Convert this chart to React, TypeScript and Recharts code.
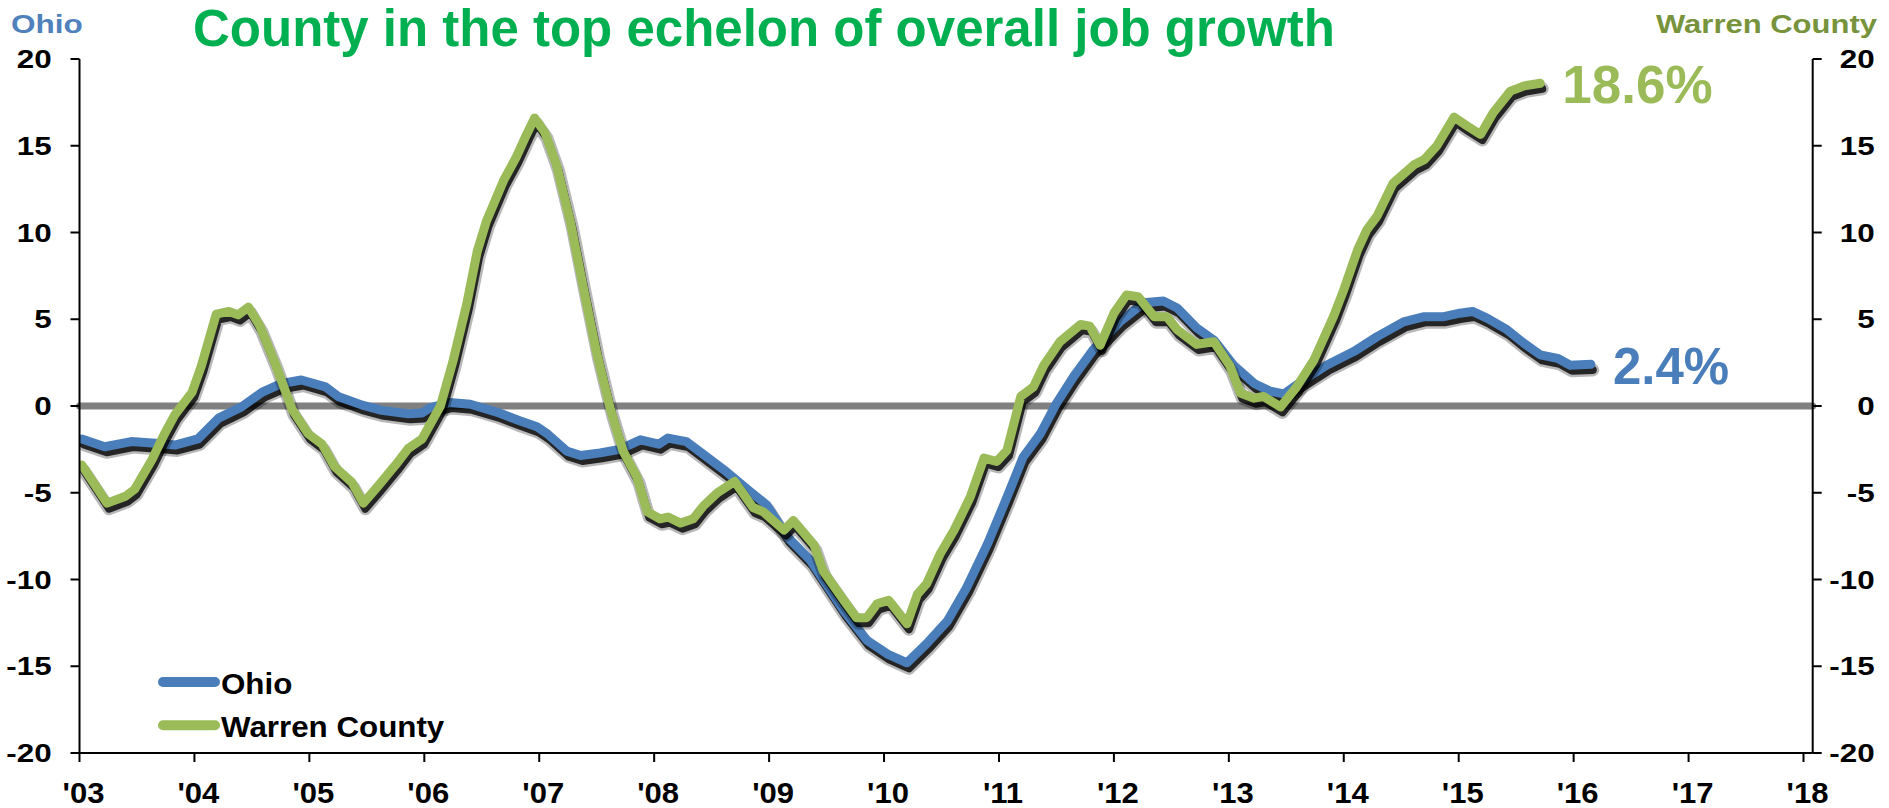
import { Line, LineChart, ReferenceLine, XAxis, YAxis } from 'recharts';

// year fractions (x) and % change values
const ohioDates = [
  2003.02, 2003.22, 2003.45, 2003.66, 2003.83, 2004.03, 2004.21, 2004.41, 2004.59, 2004.76,
  2004.93, 2005.14, 2005.25, 2005.46, 2005.63, 2005.86, 2005.98, 2006.05, 2006.22, 2006.4,
  2006.63, 2006.83, 2006.98, 2007.07, 2007.24, 2007.36, 2007.53, 2007.7, 2007.88, 2008.04,
  2008.12, 2008.28, 2008.46, 2008.63, 2008.81, 2008.98, 2009.16, 2009.36, 2009.65, 2009.85,
  2010.03, 2010.2, 2010.37, 2010.55, 2010.72, 2010.9, 2011.07, 2011.21, 2011.36, 2011.5,
  2011.65, 2011.82, 2012.06, 2012.26, 2012.43, 2012.55, 2012.72, 2012.87, 2013.04, 2013.22,
  2013.36, 2013.48, 2013.65, 2013.85, 2014.09, 2014.29, 2014.52, 2014.7, 2014.87, 2015.01,
  2015.12, 2015.25, 2015.42, 2015.57, 2015.71, 2015.86, 2015.97, 2016.15,
];
const ohioValues = [
  -1.9, -2.35, -2.05, -2.15, -2.25, -1.9, -0.7, -0.05, 0.8, 1.3,
  1.5, 1.1, 0.55, 0.05, -0.25, -0.45, -0.4, -0.1, 0.2, 0.1,
  -0.35, -0.85, -1.2, -1.6, -2.6, -2.85, -2.7, -2.5, -1.95, -2.2,
  -1.85, -2.05, -2.95, -3.8, -4.8, -5.7, -7.55, -8.9, -11.8, -13.5,
  -14.3, -14.8, -13.7, -12.4, -10.45, -7.95, -5.25, -2.95, -1.6, 0.15,
  1.7, 3.25, 4.9, 5.95, 6.05, 5.65, 4.5, 3.8, 2.35, 1.3,
  0.85, 0.7, 1.5, 2.35, 3.15, 4.0, 4.85, 5.15, 5.15, 5.35,
  5.45, 5.05, 4.4, 3.6, 2.95, 2.75, 2.35, 2.4,
];

const warrenDates = [
  2003.02, 2003.24, 2003.4, 2003.48, 2003.63, 2003.74, 2003.83, 2003.98, 2004.06, 2004.19,
  2004.3, 2004.38, 2004.47, 2004.57, 2004.7, 2004.85, 2004.99, 2005.11, 2005.22, 2005.37,
  2005.47, 2005.6, 2005.75, 2005.86, 2005.98, 2006.14, 2006.25, 2006.37, 2006.46, 2006.54,
  2006.69, 2006.8, 2006.89, 2006.96, 2007.05, 2007.15, 2007.27, 2007.38, 2007.5, 2007.62,
  2007.73, 2007.85, 2007.94, 2008.05, 2008.12, 2008.23, 2008.34, 2008.43, 2008.55, 2008.7,
  2008.86, 2008.95, 2009.13, 2009.21, 2009.39, 2009.47, 2009.65, 2009.76, 2009.85, 2009.94,
  2010.04, 2010.2, 2010.29, 2010.37, 2010.49, 2010.61, 2010.75, 2010.87, 2010.98, 2011.07,
  2011.19, 2011.3, 2011.39, 2011.53, 2011.71, 2011.79, 2011.88, 2012.0, 2012.11, 2012.21,
  2012.35, 2012.46, 2012.55, 2012.72, 2012.87, 2013.01, 2013.1, 2013.22, 2013.3, 2013.45,
  2013.59, 2013.74, 2013.91, 2014.0, 2014.12, 2014.2, 2014.29, 2014.43, 2014.61, 2014.7,
  2014.81, 2014.96, 2015.07, 2015.19, 2015.3, 2015.45, 2015.57, 2015.71,
];
const warrenValues = [
  -3.4, -5.6, -5.2, -4.8, -3.1, -1.6, -0.5, 0.8, 2.3, 5.3,
  5.45, 5.25, 5.7, 4.6, 2.5, -0.2, -1.6, -2.2, -3.5, -4.4,
  -5.6, -4.6, -3.4, -2.45, -1.9, 0.0, 2.6, 5.9, 8.9, 10.65,
  13.0, 14.35, 15.65, 16.6, 15.75, 13.9, 10.65, 6.95, 3.05, -0.2,
  -2.6, -4.1, -6.1, -6.5, -6.4, -6.75, -6.5, -5.75, -5.0, -4.35,
  -5.85, -6.1, -7.15, -6.6, -8.0, -9.5, -11.2, -12.2, -12.2, -11.4,
  -11.2, -12.55, -10.85, -10.25, -8.5, -7.15, -5.25, -3.0, -3.2, -2.55,
  0.55, 1.1, 2.35, 3.7, 4.7, 4.6, 3.5, 5.35, 6.4, 6.3,
  5.15, 5.15, 4.4, 3.55, 3.7, 2.3, 0.75, 0.45, 0.55, -0.05,
  1.1, 2.65, 5.15, 6.7, 9.0, 10.15, 10.95, 12.85, 13.9, 14.2,
  15.0, 16.65, 16.15, 15.65, 16.9, 18.15, 18.45, 18.6,
];

const yearTicks = [
  2003, 2004, 2005, 2006, 2007, 2008, 2009, 2010, 2011, 2012, 2013, 2014, 2015, 2016, 2017, 2018,
];
const yearLabels = [
  "'03", "'04", "'05", "'06", "'07", "'08", "'09", "'10", "'11", "'12", "'13", "'14", "'15", "'16", "'17", "'18",
];
const valueTicks = [-20, -15, -10, -5, 0, 5, 10, 15, 20];

const TITLE = 'County in the top echelon of overall job growth';
const OHIO_NAME = 'Ohio';
const WARREN_NAME = 'Warren County';
const OHIO_END = '2.4%';
const WARREN_END = '18.6%';

const OHIO_BLUE = '#4A7EBB';
const WARREN_GREEN = '#9BBB59';
const FONT = '"Liberation Sans", Arial, Helvetica, sans-serif';

const X_DOMAIN: [number, number] = [2003, 2018.08];
const Y_DOMAIN: [number, number] = [-20, 20];
// the drop shadow is a copy of each line on hidden axes nudged ~2px right, ~5.5px down
const SHADOW_DX = 0.017; // years
const SHADOW_DY = 0.32; // percentage points

const ohioRows = ohioDates.map((t, i) => ({ t, v: ohioValues[i] }));
const warrenRows = warrenDates.map((t, i) => ({ t, v: warrenValues[i] }));

const legendItems = [
  { name: OHIO_NAME, color: OHIO_BLUE },
  { name: WARREN_NAME, color: WARREN_GREEN },
];

function LeftTick(props: any) {
  const { x, y, payload } = props;
  return (
    <text
      transform={`translate(${x},${y + 9}) scale(1.23,1)`}
      textAnchor="end"
      fontFamily={FONT}
      fontWeight="bold"
      fontSize={25.5}
      fill="#000"
    >
      {payload.value}
    </text>
  );
}

function RightTick(props: any) {
  const { x, y, payload } = props;
  return (
    <text
      transform={`translate(${x + 49},${y + 9}) scale(1.23,1)`}
      textAnchor="end"
      fontFamily={FONT}
      fontWeight="bold"
      fontSize={25.5}
      fill="#000"
    >
      {payload.value}
    </text>
  );
}

function YearTick(props: any) {
  const { x, y, payload } = props;
  const label = yearLabels[yearTicks.indexOf(payload.value)] ?? '';
  return (
    <text
      transform={`translate(${x + 4},${y + 41}) scale(1.07,1)`}
      textAnchor="middle"
      fontFamily={FONT}
      fontWeight="bold"
      fontSize={29}
      fill="#000"
    >
      {label}
    </text>
  );
}

function endLabel(text: string, color: string, size: number, lastIndex: number) {
  return (p: any) =>
    p.index === lastIndex ? (
      <text
        key="end"
        x={p.x + 22}
        y={p.y + 20}
        fontFamily={FONT}
        fontWeight="bold"
        fontSize={size}
        fill={color}
      >
        {text}
      </text>
    ) : null;
}

function shadowLines(rows: { t: number; v: number }[], key: string) {
  return [
    <Line
      key={`${key}-soft`}
      xAxisId="shadow"
      yAxisId="shadow"
      data={rows}
      dataKey="v"
      type="linear"
      stroke="#000"
      strokeOpacity={0.28}
      strokeWidth={13}
      strokeLinecap="round"
      strokeLinejoin="round"
      dot={false}
      activeDot={false}
      isAnimationActive={false}
    />,
    <Line
      key={`${key}-core`}
      xAxisId="shadow"
      yAxisId="shadow"
      data={rows}
      dataKey="v"
      type="linear"
      stroke="#000"
      strokeOpacity={0.8}
      strokeWidth={8}
      strokeLinecap="round"
      strokeLinejoin="round"
      dot={false}
      activeDot={false}
      isAnimationActive={false}
    />,
  ];
}

export default function App() {
  return (
    <div
      style={{
        position: 'absolute',
        left: 0,
        top: 0,
        width: 1889,
        height: 808,
        background: '#fff',
        overflow: 'hidden',
      }}
    >
      <LineChart
        width={1889}
        height={808}
        margin={{ top: 59, right: 0, bottom: 0, left: 0 }}
      >
        <XAxis
          dataKey="t"
          type="number"
          domain={X_DOMAIN}
          ticks={yearTicks}
          allowDataOverflow
          height={55}
          tickSize={9}
          tickMargin={0}
          axisLine={{ stroke: '#000', strokeWidth: 2 }}
          tickLine={{ stroke: '#000', strokeWidth: 2 }}
          tick={<YearTick />}
          interval={0}
        />
        <XAxis
          xAxisId="shadow"
          dataKey="t"
          type="number"
          domain={[X_DOMAIN[0] - SHADOW_DX, X_DOMAIN[1] - SHADOW_DX]}
          allowDataOverflow
          hide
        />
        <YAxis
          yAxisId="left"
          domain={Y_DOMAIN}
          ticks={valueTicks}
          width={79.5}
          tickSize={9}
          tickMargin={18.8}
          axisLine={{ stroke: '#000', strokeWidth: 2 }}
          tickLine={{ stroke: '#000', strokeWidth: 2 }}
          tick={<LeftTick />}
          interval={0}
        />
        <YAxis
          yAxisId="right"
          orientation="right"
          domain={Y_DOMAIN}
          ticks={valueTicks}
          width={76.3}
          tickSize={9}
          tickMargin={4}
          axisLine={{ stroke: '#000', strokeWidth: 2 }}
          tickLine={{ stroke: '#000', strokeWidth: 2 }}
          tick={<RightTick />}
          interval={0}
        />
        <YAxis
          yAxisId="shadow"
          domain={[Y_DOMAIN[0] + SHADOW_DY, Y_DOMAIN[1] + SHADOW_DY]}
          allowDataOverflow
          hide
        />
        <ReferenceLine
          yAxisId="left"
          y={0}
          stroke="#808080"
          strokeWidth={7}
          strokeLinecap="round"
        />
        {shadowLines(ohioRows, 'ohio')}
        <Line
          yAxisId="left"
          data={ohioRows}
          dataKey="v"
          type="linear"
          stroke={OHIO_BLUE}
          strokeWidth={9}
          strokeLinecap="round"
          strokeLinejoin="round"
          dot={false}
          activeDot={false}
          isAnimationActive={false}
          label={endLabel(OHIO_END, OHIO_BLUE, 51, ohioRows.length - 1)}
        />
        {shadowLines(warrenRows, 'warren')}
        <Line
          yAxisId="right"
          data={warrenRows}
          dataKey="v"
          type="linear"
          stroke={WARREN_GREEN}
          strokeWidth={9}
          strokeLinecap="round"
          strokeLinejoin="round"
          dot={false}
          activeDot={false}
          isAnimationActive={false}
          label={endLabel(WARREN_END, WARREN_GREEN, 53, warrenRows.length - 1)}
        />
      </LineChart>
      <svg
        width={1889}
        height={808}
        style={{ position: 'absolute', left: 0, top: 0, pointerEvents: 'none' }}
      >
        <text
          x={193}
          y={46}
          fontFamily={FONT}
          fontWeight="bold"
          fontSize={51}
          fill="#00B050"
        >
          {TITLE}
        </text>
        <text
          transform="translate(11,33) scale(1.26,1)"
          fontFamily={FONT}
          fontWeight="bold"
          fontSize={25}
          fill="#4F81BD"
        >
          {OHIO_NAME}
        </text>
        <text
          transform="translate(1877,33) scale(1.24,1)"
          textAnchor="end"
          fontFamily={FONT}
          fontWeight="bold"
          fontSize={25}
          fill="#77933C"
        >
          {WARREN_NAME}
        </text>
        {legendItems.map((it, i) => (
          <g key={it.name} transform={`translate(158,${682 + i * 43.3})`}>
            <line x1={5} x2={57} y1={0} y2={0} stroke={it.color} strokeWidth={10} strokeLinecap="round" />
            <text
              transform="translate(63,11.5) scale(1.08,1)"
              fontFamily={FONT}
              fontWeight="bold"
              fontSize={29}
              fill="#000"
            >
              {it.name}
            </text>
          </g>
        ))}
      </svg>
    </div>
  );
}
